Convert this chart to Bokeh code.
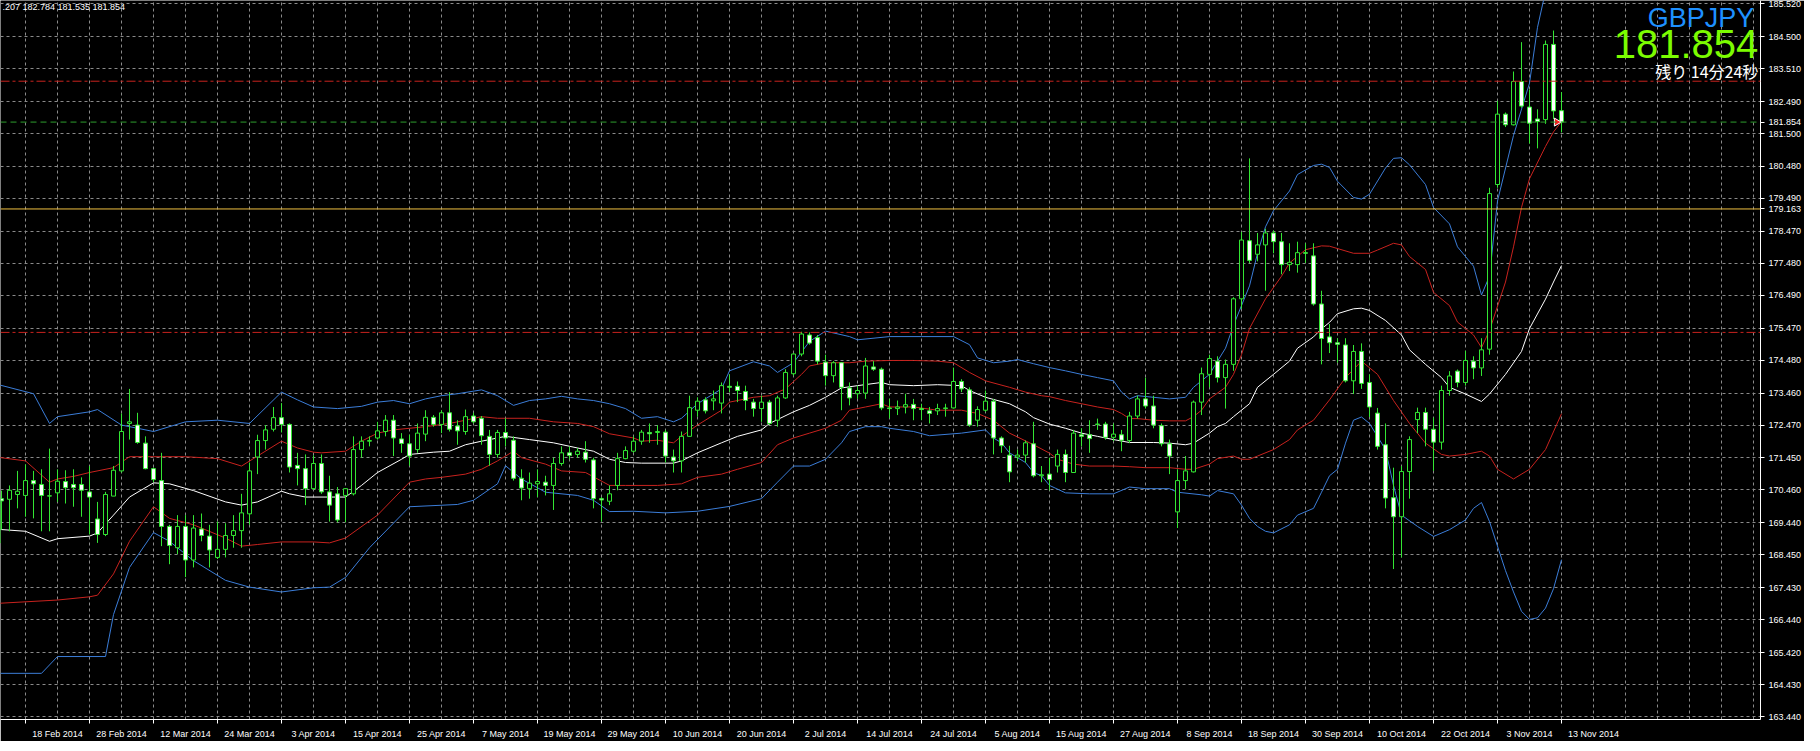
from bokeh.plotting import figure
from bokeh.models import FixedTicker, PrintfTickFormatter, Span, Label, Range1d, ColumnDataSource
from bokeh.embed import file_html
from bokeh.resources import INLINE

# ---------------- data ----------------
date_labels = ["18 Feb 2014", "28 Feb 2014", "12 Mar 2014", "24 Mar 2014", "3 Apr 2014",
               "15 Apr 2014", "25 Apr 2014", "7 May 2014", "19 May 2014", "29 May 2014",
               "10 Jun 2014", "20 Jun 2014", "2 Jul 2014", "14 Jul 2014", "24 Jul 2014",
               "5 Aug 2014", "15 Aug 2014", "27 Aug 2014", "8 Sep 2014", "18 Sep 2014",
               "30 Sep 2014", "10 Oct 2014", "22 Oct 2014", "3 Nov 2014", "13 Nov 2014"]
date_label_bars = list(range(4, 197, 8))   # bar index (0 = 12 Feb 2014) of each date label

price_ticks = [185.520, 184.500, 183.510, 182.490, 181.500, 180.480, 179.490, 178.470,
               177.480, 176.490, 175.470, 174.480, 173.460, 172.470, 171.450, 170.460,
               169.440, 168.450, 167.430, 166.440, 165.420, 164.430, 163.440]

opens = [168.82,170.19,170.17,170.32,170.29,170.75,170.63,170.27,170.37,170.72,
         170.63,170.63,170.40,169.56,169.08,170.27,171.05,172.52,172.47,171.91,
         171.12,170.75,169.33,168.67,169.33,168.29,169.25,169.03,168.37,168.62,
         169.05,169.20,169.72,171.48,171.99,172.34,172.70,172.49,171.22,171.12,
         170.50,171.28,170.40,170.34,170.29,170.34,171.71,171.97,172.07,172.27,
         172.62,172.04,171.89,171.71,172.19,172.71,172.49,172.85,172.44,172.27,
         172.75,172.68,172.12,171.56,172.24,172.00,170.82,170.50,170.65,170.70,
         170.60,171.28,171.61,171.56,171.63,171.39,170.19,170.11,170.60,171.43,
         171.66,171.97,172.24,172.24,172.25,171.48,171.36,172.12,172.93,173.25,
         173.22,173.15,173.67,173.67,173.51,173.18,172.98,173.18,172.62,173.31,
         174.06,174.67,175.26,175.18,174.42,174.00,174.40,173.62,173.44,173.46,
         174.27,174.20,173.00,172.98,173.03,173.11,172.98,172.91,172.91,172.98,
         173.00,173.82,173.56,172.62,172.93,173.21,172.07,171.54,171.48,171.54,
         171.89,170.90,170.95,171.20,171.56,171.00,172.17,172.17,172.50,172.50,
         172.09,172.17,171.99,172.75,173.28,173.06,172.45,171.89,169.78,170.75,
         171.02,173.18,174.04,174.45,173.94,174.35,176.38,178.18,177.76,178.05,
         178.42,178.15,177.44,177.44,177.81,177.71,176.22,175.20,175.02,174.95,
         173.84,174.75,173.79,172.84,171.86,170.22,169.63,171.03,172.64,172.86,
         172.34,171.94,173.54,174.14,173.79,174.45,174.24,174.82,179.92,182.10,
         181.77,183.11,182.32,181.95,181.93,184.26,182.207]
highs = [170.29,170.44,170.60,171.05,171.25,171.05,171.10,171.74,171.10,171.07,
         171.10,170.85,171.20,170.09,170.40,171.20,172.83,173.59,172.85,172.12,
         171.15,171.61,169.38,169.68,169.68,169.68,169.73,169.38,169.48,169.43,
         169.68,170.34,171.31,172.17,172.47,173.03,173.15,172.52,171.61,171.56,
         171.53,171.56,170.90,170.55,170.52,172.12,172.12,172.12,172.57,172.78,
         172.78,172.22,172.17,172.52,172.93,172.78,172.93,173.49,172.62,172.95,
         172.85,172.75,172.32,172.32,172.68,172.12,171.10,171.00,171.10,170.90,
         171.46,171.81,171.81,171.76,171.97,171.46,170.24,170.60,171.61,171.81,
         172.12,172.32,172.52,172.47,172.32,171.71,172.27,173.38,173.33,173.33,
         173.54,173.79,174.04,173.82,173.69,173.28,173.38,173.25,173.38,174.20,
         174.70,175.36,175.34,175.26,174.65,174.45,174.42,173.79,173.69,174.55,
         174.45,174.25,173.28,173.23,173.44,173.28,173.13,173.03,173.13,173.13,
         174.25,173.89,173.64,173.05,173.54,173.28,172.12,171.83,171.71,171.99,
         172.57,171.20,171.46,171.71,171.71,172.32,172.37,172.62,172.67,172.57,
         172.52,172.32,172.88,173.38,173.94,173.38,172.52,172.02,171.10,171.51,
         173.23,174.25,174.65,174.60,174.50,176.43,178.45,180.73,178.42,178.55,
         178.50,178.42,178.10,178.15,178.10,178.10,176.63,175.60,175.16,175.16,
         174.95,175.00,174.04,173.00,172.52,171.15,171.20,172.12,173.01,173.01,
         172.70,173.69,174.14,174.19,174.77,174.60,175.16,179.82,182.51,182.15,
         183.42,184.33,182.86,182.25,184.38,184.69,182.784]
lows = [168.32,169.23,169.18,169.89,169.63,169.58,169.18,169.18,170.09,170.04,
        169.94,169.63,169.08,168.82,169.03,170.27,171.00,172.02,171.89,171.10,
        170.70,168.72,168.16,168.47,167.76,168.06,168.87,168.06,168.32,168.37,
        168.67,168.67,169.38,170.95,171.71,172.27,172.24,171.00,170.60,169.99,
        170.47,170.34,169.48,169.46,169.46,170.29,171.46,171.81,172.02,172.12,
        171.51,171.61,171.21,171.61,171.97,172.42,172.22,172.27,171.86,172.17,
        172.52,171.86,171.21,171.46,171.81,170.75,170.14,170.19,170.24,170.29,
        169.84,171.21,171.41,171.46,171.31,169.89,169.48,169.99,170.45,171.41,
        171.61,171.86,171.92,171.86,171.31,171.00,171.00,172.12,172.73,172.83,
        172.93,172.83,173.49,173.18,172.93,172.73,172.57,172.47,172.42,173.28,
        174.00,174.60,174.96,174.35,173.69,173.79,172.93,173.08,173.28,173.28,
        174.15,172.93,172.68,172.78,172.83,172.62,172.62,172.52,172.78,172.73,
        172.98,173.49,172.42,172.42,172.88,171.56,171.61,170.70,171.36,171.31,
        170.85,170.70,170.45,171.00,170.70,171.00,171.81,171.61,172.32,172.02,
        171.97,171.66,171.91,172.67,172.98,172.37,171.81,170.95,169.28,170.49,
        171.00,172.78,173.64,173.79,172.98,174.15,176.07,177.49,177.54,176.63,
        177.79,177.14,177.24,177.19,177.49,176.17,174.35,174.70,174.40,173.79,
        173.43,173.59,172.72,171.71,169.89,168.01,168.37,170.19,172.22,171.81,
        171.05,171.71,173.38,173.64,173.69,173.89,173.99,174.65,179.82,181.70,
        181.75,182.30,181.19,181.04,181.80,181.95,181.535]
closes = [170.14,170.12,170.45,170.42,170.75,170.65,170.29,170.28,170.73,170.53,
          170.53,170.45,170.24,169.08,170.32,171.07,172.27,172.57,171.93,171.12,
          170.78,169.33,168.74,169.33,168.29,169.28,169.05,168.60,168.62,169.05,
          169.20,169.75,171.05,171.99,172.32,172.70,172.49,171.17,171.12,170.50,
          171.28,170.40,169.99,169.53,170.50,171.71,171.97,171.99,172.29,172.62,
          172.07,171.90,171.51,172.22,172.71,172.49,172.85,172.34,172.29,172.73,
          172.57,172.14,171.56,172.24,172.07,170.82,170.52,170.67,170.72,170.60,
          171.28,171.61,171.53,171.66,171.41,170.19,170.15,170.34,171.43,171.68,
          171.97,172.25,172.20,172.27,171.51,171.36,172.12,173.01,173.21,172.91,
          173.28,173.69,173.64,173.54,173.23,172.98,173.18,172.52,173.31,174.10,
          174.67,175.29,175.01,174.45,174.00,174.40,173.64,173.31,173.54,174.30,
          174.20,173.00,172.98,173.03,173.10,172.98,172.95,172.83,172.98,173.00,
          173.82,173.59,172.47,172.95,173.21,172.07,171.83,171.02,171.54,171.92,
          170.90,170.93,170.78,171.56,171.00,172.22,172.12,172.05,172.49,172.09,
          172.19,172.00,172.75,173.28,173.06,172.47,171.89,171.51,170.75,171.05,
          173.18,174.06,174.53,173.94,174.35,176.38,178.20,177.57,178.05,178.42,
          178.15,177.44,177.51,177.81,177.79,176.22,175.15,175.02,174.97,173.84,
          174.75,173.76,173.03,171.81,170.21,169.63,171.03,172.02,172.86,172.34,
          171.94,173.54,173.99,173.79,174.47,174.24,174.80,179.64,182.10,181.77,
          183.11,182.35,181.82,181.87,184.26,182.20,181.854]

# Bollinger lines (bar index, price)
ub2_x = [0,5,7,8,12,13,16,20,24,28,32,36,38,40,43,46,48,50,52,54,56,58,61,63,65,67,69,71,73,75,
         77,79,81,83,85,86,88,91,92,95,97,98,100,102,104,107,108,112,116,120,122,123,125,127,128,
         130,132,134,136,138,140,141,142,143,145,147,149,150,152,153,154,155,157,158,159,160,162,
         163,165,166,167,168,170,171,172,174,175,176,177,179,180,182,183,185,186,187,188,190,192,
         193,194,195,196]
ub2_y = [173.76,173.44,172.52,172.73,172.88,172.95,172.47,172.27,172.57,172.62,172.52,173.49,
         173.25,173.03,172.98,173.05,173.18,173.23,173.13,173.28,173.38,173.44,173.56,173.38,
         173.08,173.23,173.28,173.36,173.28,173.23,173.13,172.98,172.68,172.73,172.57,172.68,
         173.13,173.59,174.15,174.43,174.30,174.10,174.40,175.06,175.38,175.21,175.11,175.21,
         175.21,175.21,174.96,174.55,174.40,174.45,174.50,174.37,174.25,174.15,174.04,173.94,
         173.84,173.49,173.28,173.38,173.33,173.28,173.33,173.64,174.04,174.45,174.85,175.56,
         176.78,177.79,178.61,179.11,179.72,180.23,180.51,180.55,180.45,180.02,179.52,179.47,
         179.62,180.43,180.73,180.75,180.53,179.92,179.21,178.70,177.99,177.39,176.50,177.08,
         179.41,181.44,183.06,184.79,185.90,186.80,187.30]
ub1_x = [0,4,7,8,10,12,15,17,20,24,28,31,33,36,38,40,41,44,46,48,50,52,54,57,59,61,63,67,70,73,
         75,77,80,81,83,85,86,88,91,92,95,97,99,101,102,104,107,109,112,115,118,120,122,124,127,
         129,131,132,134,136,138,140,141,142,143,145,147,149,150,151,152,154,155,156,157,159,161,
         162,164,166,167,170,172,173,175,176,177,179,180,182,183,185,186,187,189,190,191,192,194,
         195,196]
ub1_y = [171.49,171.36,170.70,170.80,170.88,171.00,171.15,171.49,171.49,171.49,171.43,171.20,
         171.51,171.97,171.76,171.63,171.61,171.66,171.97,172.22,172.32,172.37,172.42,172.52,
         172.62,172.73,172.68,172.68,172.57,172.52,172.42,172.20,172.07,171.97,172.00,171.92,
         172.12,172.47,172.93,173.18,173.33,173.38,173.59,174.04,174.30,174.40,174.40,174.45,
         174.47,174.47,174.45,174.40,174.10,173.84,173.64,173.49,173.38,173.35,173.23,173.13,
         173.03,172.95,172.83,172.67,172.67,172.62,172.60,172.60,172.73,172.93,173.28,173.64,
         174.04,174.65,175.46,176.38,177.08,177.49,177.90,178.02,178.01,177.79,177.79,177.89,
         178.10,178.05,177.69,177.29,176.58,176.17,175.66,175.26,174.87,175.40,176.90,177.99,
         179.21,180.10,181.10,181.55,181.87]
mid_x = [0,4,7,8,12,13,15,17,20,22,25,29,31,33,36,37,39,44,46,48,51,52,55,57,59,61,63,64,67,70,
         73,75,77,79,81,85,86,88,91,93,96,97,100,102,104,106,108,111,112,115,118,121,122,124,127,
         129,130,132,134,136,138,140,142,145,147,149,150,152,153,154,155,157,158,160,162,163,165,
         166,167,168,170,171,172,174,176,177,179,181,182,184,186,187,189,191,192,194,195,196]
mid_y = [169.25,169.18,168.87,168.95,169.03,169.13,169.68,170.24,170.68,170.65,170.44,170.09,
         169.99,170.09,170.42,170.34,170.24,170.24,170.60,171.00,171.41,171.56,171.63,171.66,
         171.86,171.97,172.07,172.12,172.02,171.92,171.76,171.66,171.41,171.31,171.29,171.29,
         171.36,171.61,171.92,172.12,172.32,172.52,172.88,173.08,173.33,173.62,173.69,173.79,
         173.72,173.69,173.72,173.69,173.54,173.33,173.13,172.88,172.70,172.50,172.37,172.22,
         172.12,172.02,171.93,171.93,171.91,171.86,171.91,172.22,172.42,172.52,172.73,173.13,
         173.64,174.04,174.45,174.85,175.20,175.45,175.65,175.92,176.07,176.09,176.02,175.71,
         175.26,174.80,174.35,173.94,173.64,173.43,173.20,173.43,174.04,174.75,175.46,176.37,
         176.90,177.41]
lb1_x = [0,8,12,13,15,17,20,22,25,29,31,33,36,40,42,44,48,52,54,56,59,61,63,65,66,69,71,74,77,79,
         83,86,88,91,93,96,98,100,102,104,106,107,109,111,112,115,118,121,123,125,127,130,132,133,
         135,137,140,142,144,147,149,150,152,153,155,156,157,158,160,162,163,165,167,169,171,173,
         175,177,179,181,182,184,186,187,188,190,192,194,196]
lb1_y = [166.94,167.05,167.15,167.20,167.86,168.87,169.94,169.58,169.38,168.97,168.72,168.77,
         168.85,168.85,168.82,168.97,169.68,170.70,170.80,170.85,170.95,171.10,171.36,171.66,
         171.46,171.26,171.05,171.00,170.60,170.60,170.60,170.65,170.85,170.95,171.10,171.31,
         171.86,172.07,172.22,172.37,172.62,172.93,173.03,173.13,173.03,173.03,172.93,172.93,
         172.83,172.62,172.22,171.86,171.60,171.41,171.26,171.20,171.20,171.18,171.15,171.15,
         171.10,171.10,171.26,171.43,171.51,171.41,171.41,171.51,171.71,172.02,172.32,172.62,
         173.25,173.94,174.45,174.04,173.23,172.52,171.91,171.56,171.51,171.56,171.66,171.51,
         171.10,170.80,171.10,171.71,172.82]
lb2_x = [0,6,8,14,15,17,20,22,25,29,32,36,40,42,44,47,52,58,60,63,64,66,69,73,75,77,80,84,88,92,
         96,98,100,102,104,106,107,109,111,112,115,117,121,124,125,126,127,129,130,131,132,134,
         137,140,142,144,147,148,151,152,153,155,156,157,158,159,160,162,163,165,166,167,168,169,
         170,171,172,174,175,176,178,180,182,184,185,186,187,189,190,191,192,193,194,195,196]
lb2_y = [164.78,164.78,165.30,165.30,166.60,168.06,169.14,168.87,168.27,167.66,167.45,167.30,
         167.43,167.45,167.75,168.67,169.94,170.01,170.14,170.65,171.21,170.80,170.39,170.29,
         170.14,169.79,169.80,169.75,169.80,169.95,170.19,170.70,171.20,171.20,171.41,171.92,
         172.27,172.42,172.42,172.37,172.27,172.14,172.22,172.32,172.07,171.92,171.61,171.31,
         171.00,170.90,170.60,170.37,170.34,170.34,170.55,170.50,170.50,170.39,170.31,170.27,
         170.44,170.34,169.99,169.58,169.33,169.18,169.13,169.38,169.68,169.89,170.39,170.90,
         171.10,171.91,172.62,172.72,172.52,171.71,170.60,169.68,169.33,169.02,169.23,169.53,
         169.89,170.07,169.48,167.96,167.30,166.70,166.45,166.50,166.80,167.40,168.30]

red_levels = [183.12, 175.34]
bid_level = 181.854
yellow_level = 179.163

# ---------------- styles ----------------
GREEN = "#33E633"
BLUE = "#3B7DD8"
RED = "#C8221E"
GRID = "#8A8A8A"
FONT = "Liberation Sans"

bars = list(range(len(opens)))
src = ColumnDataSource(dict(
    bar=bars, high=highs, low=lows,
    top=[max(o, c) for o, c in zip(opens, closes)],
    bot=[min(o, c) for o, c in zip(opens, closes)],
    fill=["#FFFFFF" if c < o else "#000000" for o, c in zip(opens, closes)],
))

FW = 1760
X0 = 0.875
p = figure(frame_width=FW, frame_height=719,
           x_range=Range1d(X0, X0 + FW / 8.0), y_range=Range1d(163.35, 185.62),
           output_backend="svg", toolbar_location=None, y_axis_location="right",
           background_fill_color="#000000", border_fill_color="#000000",
           outline_line_color=None, min_border=0)

# axes
p.yaxis.ticker = FixedTicker(ticks=sorted(price_ticks + [bid_level, yellow_level]))
p.yaxis.formatter = PrintfTickFormatter(format="%.3f")
p.yaxis.axis_line_color = "#FFFFFF"
p.yaxis.major_tick_line_color = "#FFFFFF"
p.yaxis.major_tick_out = 4
p.yaxis.major_tick_in = 0
p.yaxis.minor_tick_line_color = None
p.yaxis.major_label_text_color = "#FFFFFF"
p.yaxis.major_label_text_font = FONT
p.yaxis.major_label_text_font_size = "9px"
p.yaxis.major_label_standoff = 4

p.xaxis.ticker = FixedTicker(ticks=[b + 4 for b in date_label_bars], minor_ticks=date_label_bars)
p.xaxis.major_label_overrides = {b + 4: lab for b, lab in zip(date_label_bars, date_labels)}
p.xaxis.axis_line_color = "#FFFFFF"
p.xaxis.major_tick_line_color = None
p.xaxis.minor_tick_line_color = "#FFFFFF"
p.xaxis.minor_tick_out = 4
p.xaxis.minor_tick_in = 0
p.xaxis.major_label_text_color = "#FFFFFF"
p.xaxis.major_label_text_font = FONT
p.xaxis.major_label_text_font_size = "9px"
p.xaxis.major_label_standoff = 3

# grids
p.xgrid.ticker = FixedTicker(ticks=list(range(0, 224, 4)))
p.ygrid.ticker = FixedTicker(ticks=price_ticks)
for g in (p.xgrid, p.ygrid):
    g.grid_line_color = GRID
    g.grid_line_dash = "3 3"
    g.grid_line_width = 1

# level lines
for lv in red_levels:
    p.add_layout(Span(location=lv, dimension="width", line_color=RED, line_width=1,
                      line_dash="9 3 3 3"))
p.add_layout(Span(location=bid_level, dimension="width", line_color="#2E9E2E",
                  line_width=1, line_dash="6 4"))
p.add_layout(Span(location=yellow_level, dimension="width", line_color="#F0C040", line_width=1))

# Bollinger bands
p.line(ub2_x, ub2_y, line_color=BLUE, line_width=1)
p.line(lb2_x, lb2_y, line_color=BLUE, line_width=1)
p.line(ub1_x, ub1_y, line_color=RED, line_width=1)
p.line(lb1_x, lb1_y, line_color=RED, line_width=1)
p.line(mid_x, mid_y, line_color="#FFFFFF", line_width=1)

# candles
p.segment(x0="bar", y0="low", x1="bar", y1="high", source=src, line_color=GREEN, line_width=1)
p.vbar(x="bar", width=0.5, top="top", bottom="bot", source=src,
       fill_color="fill", line_color=GREEN, line_width=1)

# current price arrow
p.scatter(x=[bars[-1] - 0.6], y=[closes[-1]], marker="triangle", angle=-1.5708, size=8,
          fill_color="#FF2020", line_color="#FFFFFF", line_width=1)

# texts
ohlc_text = ".207 %.3f %.3f %.3f" % (highs[-1], lows[-1], closes[-1])
p.add_layout(Label(x=X0, y=185.62, text=ohlc_text, text_color="#FFFFFF", text_font=FONT,
                   text_font_size="9px", text_baseline="top", text_align="left", x_offset=2,
                   y_offset=-1))
p.add_layout(Label(x=220.1, y=185.62, text="GBPJPY", text_color="#1E90FF", text_font=FONT,
                   text_font_size="27px", text_align="right", text_baseline="top",
                   y_offset=-2))
p.add_layout(Label(x=220.6, y=184.26, text="%.3f" % closes[-1], text_color="#7CFC00",
                   text_font=FONT, text_font_size="40px", text_align="right",
                   text_baseline="middle"))
p.add_layout(Label(x=220.6, y=183.45, text="残り 14分24秒", text_color="#FFFFFF",
                   text_font="Noto Sans CJK JP", text_font_size="16px", text_align="right",
                   text_baseline="middle"))

open("out.html", "w").write(file_html(p, INLINE))
